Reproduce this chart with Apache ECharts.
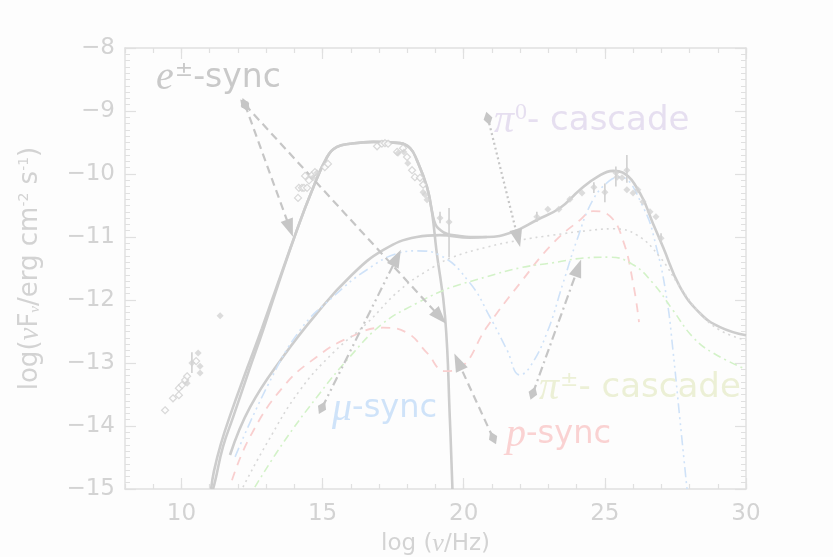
<!DOCTYPE html>
<html><head><meta charset="utf-8">
<script src="https://cdn.jsdelivr.net/npm/echarts@6/dist/echarts.min.js"></script>
<style>html,body{margin:0;padding:0;background:#fdfdfd}#c{width:833px;height:557px}</style>
</head><body><div id="c"></div>
<script>
// ---- model curves: [log nu, log nuFnu] ----
const eSync = [[11.12,-15],[11.2,-14.86],[11.47,-14.33],[11.83,-13.86],[12.4,-13.11],[12.89,-12.48],[13.4,-11.79],[14.09,-10.89],[14.59,-10.3],[15.16,-9.73],[15.51,-9.57],[15.97,-9.52],[16.8,-9.49],[17.74,-9.51],[18.1,-9.59],[18.34,-9.78],[18.7,-10.21],[18.88,-10.62],[19.03,-11.2],[19.34,-12.27],[19.51,-13.9],[19.6,-15]];
const total = [[11.05,-15],[11.15,-14.72],[11.4,-14.28],[11.75,-13.8],[12.33,-13.08],[12.85,-12.45],[13.38,-11.78],[14.09,-10.89],[14.59,-10.3],[15.16,-9.73],[15.51,-9.57],[15.97,-9.52],[16.8,-9.49],[17.74,-9.51],[18.1,-9.59],[18.34,-9.78],[18.7,-10.21],[18.88,-10.6],[19.0,-10.8],[19.15,-10.88],[19.4,-10.95],[19.8,-10.98],[20.22,-11.0],[20.82,-11.0],[21.74,-10.92],[22.59,-10.73],[23.41,-10.54],[24.12,-10.25],[24.72,-10.05],[25.29,-9.95],[25.64,-9.98],[26.24,-10.3],[26.7,-10.78],[27.06,-11.16],[27.66,-11.79],[28.37,-12.21],[29.08,-12.43],[30,-12.56]];
const hadronic = [[11.72,-14.46],[12.43,-13.7],[13.6,-12.9],[14.8,-12.21],[15.97,-11.63],[17.14,-11.21],[18.34,-11.0],[19.16,-10.97],[20.22,-11.01],[20.82,-11.0]];
const muSync = [[11.9,-14.49],[13.03,-13.38],[14.2,-12.48],[15.37,-11.95],[16.57,-11.52],[17.74,-11.25],[18.34,-11.22],[19.16,-11.29],[20.22,-11.73],[20.93,-12.27],[21.53,-12.79],[21.99,-13.19],[22.35,-13.06],[22.95,-12.52],[23.52,-11.73],[24.01,-11.05],[24.58,-10.41],[25.18,-10.1],[25.53,-10.05],[26.35,-10.52],[26.85,-11.21],[27.2,-12.0],[27.41,-12.79],[27.66,-13.9],[27.91,-15]];
const pSync = [[11.79,-14.86],[12.43,-14.17],[13.6,-13.38],[14.8,-12.9],[15.97,-12.59],[17.14,-12.44],[17.99,-12.52],[18.7,-12.84],[19.34,-13.13],[19.87,-13.08],[20.82,-12.43],[22.0,-11.73],[23.16,-11.1],[24.12,-10.73],[24.58,-10.59],[25.18,-10.67],[25.64,-11.05],[26.0,-11.73],[26.21,-12.35]];
const pi0Cascade = [[12.18,-14.97],[13.03,-14.27],[14.2,-13.43],[15.37,-12.84],[16.57,-12.37],[17.74,-11.84],[18.91,-11.48],[19.62,-11.32],[20.82,-11.16],[21.99,-11.05],[23.16,-10.97],[24.37,-10.9],[25.29,-10.87],[26.14,-10.97],[26.95,-11.32],[27.66,-11.79],[28.37,-12.21],[29.08,-12.48],[30,-12.64]];
const piPmCascade = [[12.6,-14.97],[13.6,-14.27],[14.8,-13.54],[15.97,-12.9],[17.14,-12.37],[18.34,-12.05],[19.16,-11.87],[19.62,-11.79],[20.82,-11.63],[21.99,-11.49],[23.16,-11.41],[24.37,-11.33],[25.18,-11.32],[26.0,-11.44],[26.7,-11.73],[27.41,-12.16],[28.12,-12.59],[28.83,-12.84],[30,-13.1]];
// ---- observed data ----
const obsOpen = [[9.42,-13.75],[9.7,-13.56],[9.91,-13.51],[9.91,-13.4],[10.02,-13.35],[10.13,-13.27],[10.2,-13.21],[10.52,-12.97],[14.13,-10.38],[14.16,-10.22],[14.27,-10.22],[14.34,-10.22],[14.45,-10.22],[14.38,-10.03],[14.52,-10.1],[14.62,-10.02],[14.73,-9.97],[15.08,-9.89],[15.19,-9.84],[16.93,-9.56],[17.1,-9.52],[17.21,-9.51],[17.32,-9.52],[17.64,-9.65],[17.85,-9.59],[17.99,-9.73],[18.17,-9.94],[18.27,-10.05],[18.45,-10.06],[18.56,-10.17]];
const obsFilled = [[10.2,-13.32],[10.37,-13.0],[10.59,-12.84],[10.66,-13.05],[10.66,-13.16],[11.37,-12.25],[14.66,-10.06],[14.8,-9.98],[17.67,-9.67],[17.88,-9.65],[18.02,-9.83],[18.56,-10.29],[18.63,-10.33],[18.7,-10.41],[19.16,-10.7],[19.48,-10.76],[22.59,-10.68],[22.98,-10.56],[23.37,-10.56],[23.76,-10.4],[24.19,-10.3],[24.61,-10.21],[25.0,-10.29],[25.39,-9.98],[25.43,-10.05],[25.61,-10.06],[25.78,-9.94],[25.78,-10.25],[26.0,-10.3],[26.17,-10.25],[26.35,-10.44],[26.6,-10.6],[26.81,-10.68],[26.99,-11.02]];
const errBars = [[10.37,-13.16,-12.83],[19.16,-10.78,-10.6],[19.48,-11.32,-10.54],[22.59,-10.76,-10.6],[24.61,-10.3,-10.13],[25.0,-10.45,-10.15],[25.39,-10.2,-9.88],[25.78,-10.14,-9.7],[26.99,-11.1,-10.94]];
// ---- annotation arrows: [from, to] ----
const arrowESync1 = [[12.25,-8.9],[13.84,-10.86]];
const arrowESync2 = [[12.25,-8.9],[19.16,-12.27]];
const arrowPi0 = [[20.86,-9.12],[21.92,-11.02]];
const arrowMu = [[14.98,-13.71],[17.63,-11.33]];
const arrowP = [[21.04,-14.19],[19.8,-12.98]];
const arrowPiPm = [[22.45,-13.48],[24.05,-11.49]];
// ---- ticks ----
const xMajorTicks = [10,15,20,25,30];
const xRange = [8,30];
const yRange = [-15,-8];

const frame = '#e0e0e0';
const labelCol = '#d3d3d3';
const sansFont = '"DejaVu Sans", "Liberation Sans", sans-serif';
const serifFont = '"Liberation Serif", "DejaVu Serif", serif';

function curve(name, data, color, type, width) {
  return {name, type:'line', data, showSymbol:false, symbol:'none', smooth:0.45,
    lineStyle:{color, width, type}, z:3, silent:true, animation:false};
}
function arrow(pts, type) {
  return [{coord:pts[0], symbol:'diamond', symbolSize:[9,14], lineStyle:{type}},
          {coord:pts[1], symbol:'triangle', symbolSize:[13,18]}];
}

const chart = echarts.init(document.getElementById('c'), null, {renderer:'canvas'});
const baseX = {type:'value', min:xRange[0], max:xRange[1], gridIndex:0, splitLine:{show:false},
  axisLine:{show:true, onZero:false, lineStyle:{color:frame, width:1.5}}};
const baseY = {type:'value', min:yRange[0], max:yRange[1], interval:1, splitLine:{show:false},
  axisLine:{show:true, onZero:false, lineStyle:{color:frame, width:1.5}},
  axisTick:{show:true, inside:true, length:11, lineStyle:{color:frame, width:1.2}},
  minorTick:{show:true, splitNumber:10, length:5, lineStyle:{color:frame, width:1}}};

chart.setOption({
  backgroundColor:'#fdfdfd',
  animation:false,
  grid:{left:125, right:87, top:48, bottom:68, outerBoundsMode:'none', containLabel:false},
  xAxis:[
    Object.assign({}, baseX, {position:'bottom', interval:1,
      axisTick:{show:true, inside:true, length:5, lineStyle:{color:frame, width:1.2}},
      axisLabel:{show:true, customValues:xMajorTicks, color:labelCol, fontSize:23, fontFamily:sansFont, margin:14},
      name:'{a|log (}{g|ν}{a|/Hz)}', nameLocation:'middle', nameGap:38,
      nameTextStyle:{rich:{a:{color:labelCol, fontSize:23, fontFamily:sansFont}, g:{color:labelCol, fontSize:26, fontFamily:serifFont, fontStyle:'italic'}}}}),
    Object.assign({}, baseX, {position:'bottom', axisLine:{show:false},
      axisTick:{show:true, inside:true, length:11, customValues:xMajorTicks, lineStyle:{color:frame, width:1.2}},
      axisLabel:{show:false}}),
    Object.assign({}, baseX, {position:'top', interval:1,
      axisTick:{show:true, inside:true, length:5, lineStyle:{color:frame, width:1.2}},
      axisLabel:{show:false}}),
    Object.assign({}, baseX, {position:'top', axisLine:{show:false},
      axisTick:{show:true, inside:true, length:11, customValues:xMajorTicks, lineStyle:{color:frame, width:1.2}},
      axisLabel:{show:false}})
  ],
  yAxis:[
    Object.assign({}, baseY, {position:'left',
      axisLabel:{show:true, color:labelCol, fontSize:23, fontFamily:sansFont, margin:10,
        formatter:v=>'\u2212' + Math.abs(v)},
      name:'{a|log(}{g|ν}{a|F}{s|ν}{a|/erg cm}{p|-2}{a| s}{p|-1}{a|)}', nameLocation:'middle', nameGap:80, nameRotate:90,
      nameTextStyle:{rich:{
        a:{color:labelCol, fontSize:26, fontFamily:sansFont},
        g:{color:labelCol, fontSize:29, fontFamily:serifFont, fontStyle:'italic'},
        s:{color:labelCol, fontSize:15, fontFamily:serifFont, fontStyle:'italic', padding:[10,0,0,0]},
        p:{color:labelCol, fontSize:14, fontFamily:sansFont, padding:[0,0,13,0]}}}}),
    Object.assign({}, baseY, {position:'right', axisLabel:{show:false}})
  ],
  series:[
    curve('e-sync', eSync, '#cdcdcd', 'solid', 2.6),
    curve('total', total, '#cdcdcd', 'solid', 2.6),
    curve('hadronic', hadronic, '#cdcdcd', 'solid', 2.6),
    curve('mu-sync', muSync, '#cfe2f8', [10,4,2,4,2,4,2,4], 1.6),
    curve('p-sync', pSync, '#f9cfcf', [9,7], 1.8),
    curve('pi0-cascade', pi0Cascade, '#d8d8d8', [2,4], 1.6),
    curve('pipm-cascade', piPmCascade, '#d3f2c8', [8,4,2,4], 1.6),
    {type:'custom', data:errBars, encode:{x:0, y:[1,2]}, z:4, silent:true,
      renderItem:(params, api)=>{
        const a = api.coord([api.value(0), api.value(1)]);
        const b = api.coord([api.value(0), api.value(2)]);
        return {type:'line', shape:{x1:a[0], y1:a[1], x2:b[0], y2:b[1]}, style:{stroke:'#d0d0d0', lineWidth:1.6}};
      }},
    {type:'scatter', data:obsOpen, symbol:'diamond', symbolSize:7, z:5, silent:true,
      itemStyle:{color:'#fdfdfd', borderColor:'#d0d0d0', borderWidth:1.2}},
    {type:'scatter', data:obsFilled, symbol:'diamond', symbolSize:7, z:5, silent:true,
      itemStyle:{color:'#d3d3d3'}},
    {type:'line', data:[], z:6, silent:true,
      markLine:{silent:true, animation:false, symbol:['diamond','triangle'],
        label:{show:false},
        lineStyle:{color:'#c6c6c6', width:2.2},
        itemStyle:{color:'#c0c0c0'},
        emphasis:{disabled:true},
        data:[
          arrow(arrowESync1, [8,5]),
          arrow(arrowESync2, [8,5]),
          arrow(arrowPi0, [2,3]),
          arrow(arrowMu, [9,4,2,4,2,4]),
          arrow(arrowP, [8,5]),
          arrow(arrowPiPm, [9,4,2,4])
        ]}}
  ],
  graphic:[
    {type:'text', left:156, top:58, silent:true, style:{text:'{i|e}{s|±}{n|-sync}', rich:{
      i:{fontFamily:serifFont, fontStyle:'italic', fontSize:40, fill:'#c9c9c9'},
      s:{fontFamily:sansFont, fontSize:22, fill:'#c9c9c9', padding:[0,0,16,1]},
      n:{fontFamily:sansFont, fontSize:33, fill:'#c9c9c9'}}}},
    {type:'text', left:494, top:101, silent:true, style:{text:'{i|π}{s|0}{n|- cascade}', rich:{
      i:{fontFamily:serifFont, fontStyle:'italic', fontSize:40, fill:'#e6dff0'},
      s:{fontFamily:serifFont, fontSize:24, fill:'#e6dff0', padding:[0,0,16,1]},
      n:{fontFamily:sansFont, fontSize:34, fill:'#e6dff0'}}}},
    {type:'text', left:332, top:389, silent:true, style:{text:'{i|μ}{n|-sync}', rich:{
      i:{fontFamily:serifFont, fontStyle:'italic', fontSize:40, fill:'#cfe3f9'},
      n:{fontFamily:sansFont, fontSize:32, fill:'#cfe3f9'}}}},
    {type:'text', left:506, top:415, silent:true, style:{text:'{i|p}{n|-sync}', rich:{
      i:{fontFamily:serifFont, fontStyle:'italic', fontSize:40, fill:'#fad2d2'},
      n:{fontFamily:sansFont, fontSize:32, fill:'#fad2d2'}}}},
    {type:'text', left:539, top:368, silent:true, style:{text:'{i|π}{s|±}{n|- cascade}', rich:{
      i:{fontFamily:serifFont, fontStyle:'italic', fontSize:40, fill:'#ecf0d6'},
      s:{fontFamily:sansFont, fontSize:22, fill:'#ecf0d6', padding:[0,0,16,1]},
      n:{fontFamily:sansFont, fontSize:34, fill:'#ecf0d6'}}}}
  ]
});
</script></body></html>
